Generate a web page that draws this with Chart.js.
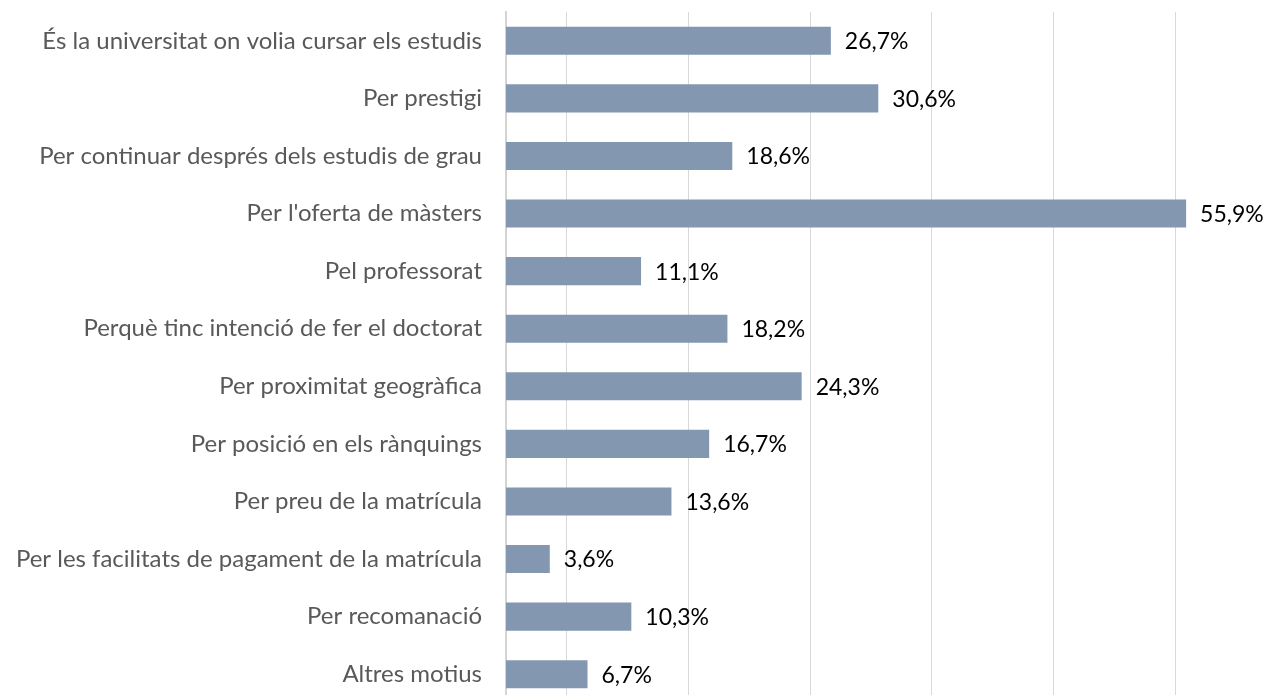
<!DOCTYPE html>
<html lang="ca">
<head>
    <meta charset="UTF-8">
    <title>Motius d'elecció de la universitat</title>
    <script src="https://cdn.jsdelivr.net/npm/chart.js"></script>
    <style>
        html, body {
            margin: 0;
            padding: 0;
            background: #ffffff;
            overflow: hidden;
        }

        #wrap {
            position: relative;
            width: 1274px;
            height: 703px;
        }
    </style>
</head>
<body>
    <div id="wrap">
        <canvas id="motiusChart"></canvas>
    </div>

    <script>
        /* categories (eix vertical) */
        const categories = [
            'És la universitat on volia cursar els estudis',
            'Per prestigi',
            'Per continuar després dels estudis de grau',
            "Per l'oferta de màsters",
            'Pel professorat',
            'Perquè tinc intenció de fer el doctorat',
            'Per proximitat geogràfica',
            'Per posició en els rànquings',
            'Per preu de la matrícula',
            'Per les facilitats de pagament de la matrícula',
            'Per recomanació',
            'Altres motius'
        ];

        /* percentatges */
        const values = [26.7, 30.6, 18.6, 55.9, 11.1, 18.2, 24.3, 16.7, 13.6, 3.6, 10.3, 6.7];

        /* línies de la graella (eix horitzontal, sense etiquetes) */
        const gridValues = [5, 15, 25, 35, 45, 55];
        const axisMin = 0;
        const axisMax = 60;

        const FONT = 'Lato, "Open Sans", sans-serif';

        /* etiquetes de valor a la dreta de cada barra */
        const valueLabels = {
            id: 'valueLabels',
            afterDatasetsDraw(chart) {
                const ctx = chart.ctx;
                const meta = chart.getDatasetMeta(0);
                ctx.save();
                ctx.font = '23px ' + FONT;
                ctx.fillStyle = '#000000';
                ctx.textAlign = 'left';
                ctx.textBaseline = 'middle';
                meta.data.forEach((bar, i) => {
                    const txt = values[i].toFixed(1).replace('.', ',') + '%';
                    ctx.fillText(txt, bar.x + 14, bar.y + 1);
                });
                ctx.restore();
            }
        };

        const ctx = document.getElementById('motiusChart').getContext('2d');
        new Chart(ctx, {
            type: 'bar',
            data: {
                labels: categories,
                datasets: [{
                    data: values,
                    backgroundColor: '#8497B0',
                    borderWidth: 0,
                    categoryPercentage: 1,
                    barPercentage: 0.487
                }]
            },
            options: {
                indexAxis: 'y',
                responsive: true,
                maintainAspectRatio: false,
                animation: false,
                layout: {
                    padding: { top: 12, right: 38, bottom: 0, left: 0 }
                },
                plugins: {
                    legend: { display: false },
                    tooltip: { enabled: false }
                },
                scales: {
                    x: {
                        min: axisMin,
                        max: axisMax,
                        afterBuildTicks: (s) => {
                            s.ticks = gridValues.map(v => ({ value: v }));
                        },
                        afterFit: (s) => {
                            s.height = 0;
                            s.paddingLeft = 0;
                            s.paddingRight = 0;
                        },
                        ticks: { display: false },
                        grid: {
                            color: '#d9d9d9',
                            lineWidth: 1,
                            drawTicks: false
                        },
                        border: { display: false }
                    },
                    y: {
                        afterFit: (s) => {
                            s.width = 506;
                            s.paddingTop = 0;
                            s.paddingBottom = 0;
                        },
                        ticks: {
                            color: '#595959',
                            font: { family: FONT, size: 24 },
                            padding: 24
                        },
                        grid: { display: false, drawTicks: false },
                        border: { display: true, color: '#d4d4d4', width: 2 }
                    }
                }
            },
            plugins: [valueLabels]
        });
    </script>
</body>
</html>
